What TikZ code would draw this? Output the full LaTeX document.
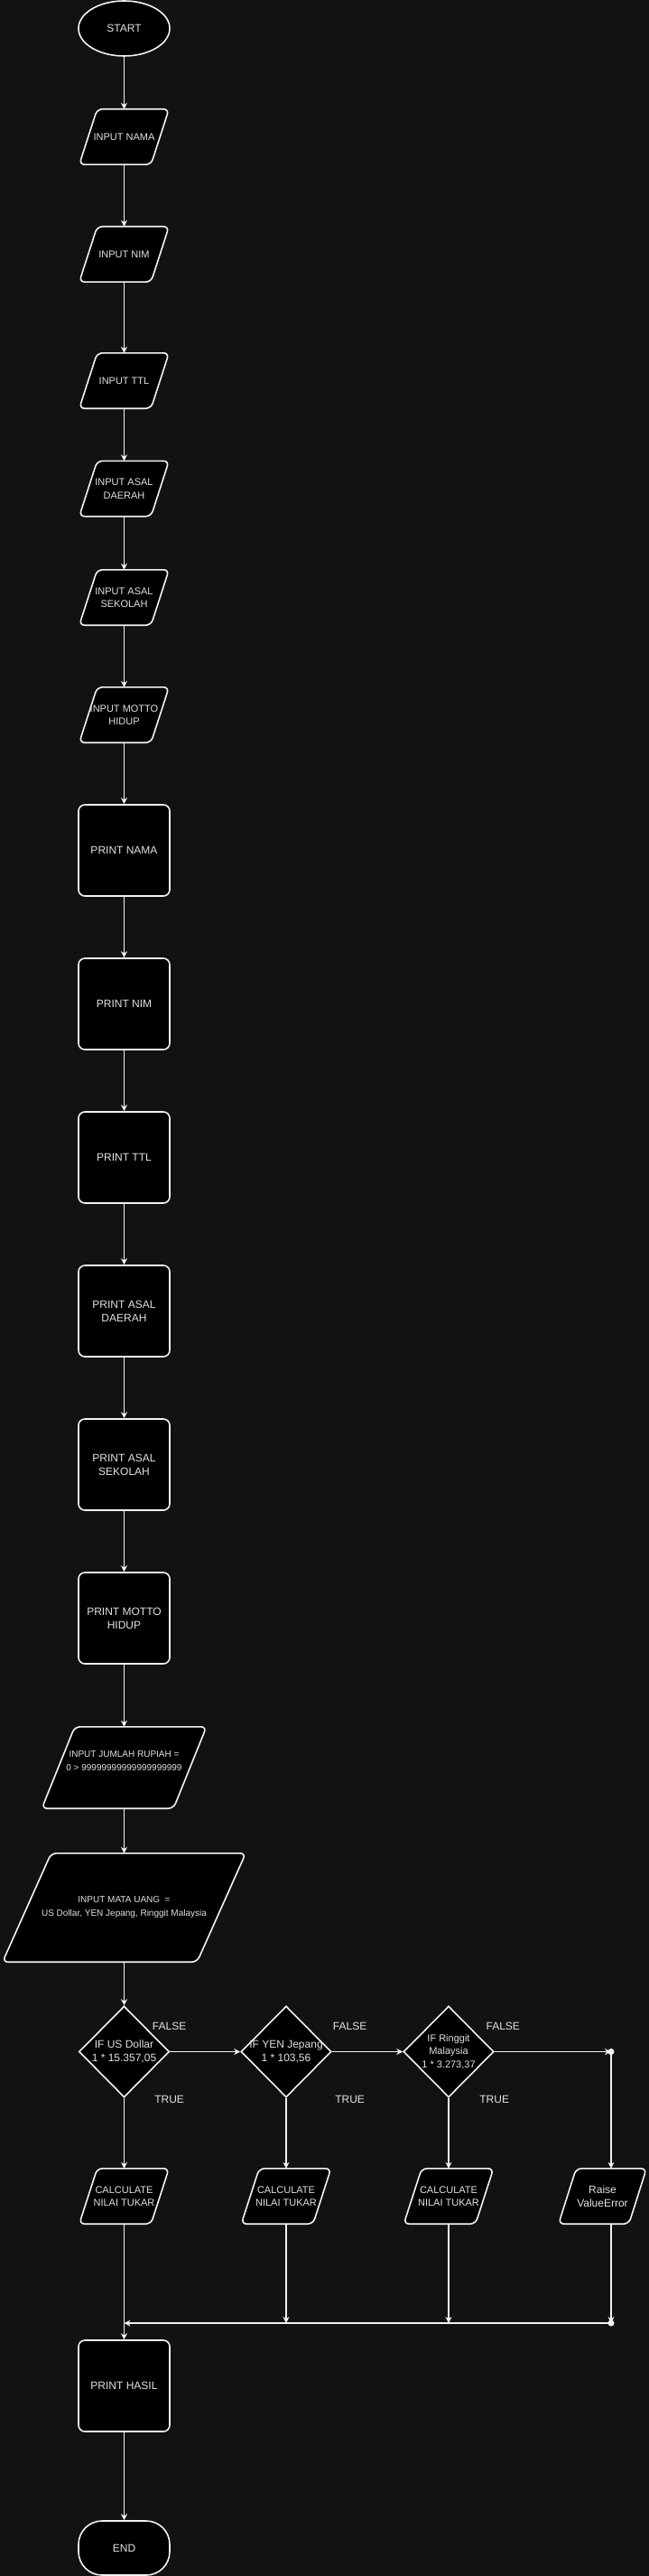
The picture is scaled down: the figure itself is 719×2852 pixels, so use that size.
\documentclass[tikz,border=0pt]{standalone}
\usepackage{fontspec}
\setmainfont{Liberation Sans}
\usetikzlibrary{calc, shapes.geometric, arrows.meta}

\definecolor{bgdark}{HTML}{121212}
\definecolor{linewhite}{HTML}{F2F2F2}
\definecolor{textgrey}{HTML}{E2E2E2}
\pgfdeclarelayer{bg}
\pgfdeclarelayer{shapes}
\pgfsetlayers{bg,shapes,main}

\begin{document}
\begin{tikzpicture}[x=1pt, y=-1pt,
	every node/.style={text=textgrey, align=center, inner sep=0pt},
	terminal/.style={draw=linewhite, fill=black, line width=1.6pt, minimum width=101pt, font=\fontsize{12}{15}\selectfont},
	iotext/.style={rectangle, minimum width=99pt, minimum height=61pt, font=\fontsize{11}{14.5}\selectfont},
	iobox/.style={draw=linewhite, fill=black, line width=1.6pt, rounded corners=6pt},
	printbox/.style={rectangle, draw=linewhite, fill=black, line width=1.6pt, rounded corners=7pt, minimum width=101pt, minimum height=101pt, font=\fontsize{12}{15}\selectfont},
	decision/.style={diamond, draw=linewhite, fill=black, line width=1.6pt, minimum width=100pt, minimum height=101pt},
	dtext/.style={font=\fontsize{12}{15}\selectfont},
	lbl/.style={font=\fontsize{12}{15}\selectfont},
	flow/.style={-{Stealth[length=7pt, width=7pt]}, linewhite, line width=1.1pt}]
			\def\cx{137.5}
			\useasboundingbox (0,0) rectangle (719,2852);
			\begin{pgfonlayer}{bg}
				\fill[bgdark] (0,0) rectangle (719,2852);
			\end{pgfonlayer}
			
			% Input part
			\node[terminal, ellipse, minimum height=61pt] (start) at (\cx,31.5) {START};
			\node[iotext] (in_nama) at (\cx,151.5) {INPUT NAMA};
			\node[iotext] (in_nim) at (\cx,281.5) {INPUT NIM};
			\node[iotext] (in_ttl) at (\cx,421.5) {INPUT TTL};
			\node[iotext] (in_daerah) at (\cx,541) {INPUT ASAL\\DAERAH};
			\node[iotext] (in_sekolah) at (\cx,661.5) {INPUT ASAL\\SEKOLAH};
			\node[iotext] (in_motto) at (\cx,791.5) {INPUT MOTTO\\HIDUP};
			
			% Print part
			\node[printbox] (pr_nama) at (\cx,941.5) {PRINT NAMA};
			\node[printbox] (pr_nim) at (\cx,1111.5) {PRINT NIM};
			\node[printbox] (pr_ttl) at (\cx,1281.5) {PRINT TTL};
			\node[printbox] (pr_daerah) at (\cx,1451.5) {PRINT ASAL\\DAERAH};
			\node[printbox] (pr_sekolah) at (\cx,1621.5) {PRINT ASAL\\SEKOLAH};
			\node[printbox] (pr_motto) at (\cx,1791.5) {PRINT MOTTO\\HIDUP};
			
			% Currency part
			\node[iotext, minimum width=182pt, minimum height=90pt, font=\fontsize{10}{15}\selectfont] (in_rupiah) at (\cx,1957) {INPUT JUMLAH RUPIAH =\\0 > 99999999999999999999\\\mbox{}};
			\node[iotext, minimum width=269pt, minimum height=120pt, font=\fontsize{10}{15}\selectfont] (in_uang) at (\cx,2112) {INPUT MATA UANG \ =\\US Dollar, YEN Jepang, Ringgit Malaysia};
			
			\node[decision] (if_usd) at (\cx,2271.5) {};
			\node[decision] (if_yen) at (317,2271.5) {};
			\node[decision] (if_myr) at (497,2271.5) {};
			\node[dtext] (t_usd) at (if_usd) {IF US Dollar\\1 * 15.357,05};
			\node[dtext] (t_yen) at (if_yen) {IF YEN Jepang\\1 * 103,56};
			\node[dtext, font=\fontsize{11}{14.5}\selectfont] (t_myr) at (if_myr) {IF Ringgit\\Malaysia\\1 * 3.273,37};
			
			\node[iotext] (calc_usd) at (\cx,2431.5) {CALCULATE\\NILAI TUKAR};
			\node[iotext] (calc_yen) at (317,2431.5) {CALCULATE\\NILAI TUKAR};
			\node[iotext] (calc_myr) at (497,2431.5) {CALCULATE\\NILAI TUKAR};
			\node[iotext, minimum width=97pt, font=\fontsize{12}{15}\selectfont] (raise) at (667.5,2431.5) {Raise\\ValueError};
			
			\node[printbox] (pr_hasil) at (\cx,2641.5) {PRINT HASIL};
			\node[terminal, rectangle, rounded corners=26pt, minimum height=60pt] (end) at (\cx,2821) {END};
			
			\coordinate (j1) at (677,2271.5);
			\coordinate (j2) at (677,2572);
			
			% Draw the slanted boxes under the texts
			\begin{pgfonlayer}{shapes}
				\foreach \n in {in_nama,in_nim,in_ttl,in_daerah,in_sekolah,in_motto,in_rupiah,in_uang,calc_usd,calc_yen,calc_myr,raise}
					\draw[iobox] (\n.south west) -- ($(\n.north west)!.2!(\n.north east)$) -- (\n.north east) -- ($(\n.south east)!.2!(\n.south west)$) -- cycle;
			\end{pgfonlayer}
			
			% Arrows
			\foreach \a/\b in {start/in_nama, in_nama/in_nim, in_nim/in_ttl, in_ttl/in_daerah, in_daerah/in_sekolah, in_sekolah/in_motto, in_motto/pr_nama, pr_nama/pr_nim, pr_nim/pr_ttl, pr_ttl/pr_daerah, pr_daerah/pr_sekolah, pr_sekolah/pr_motto, pr_motto/in_rupiah, in_rupiah/in_uang, in_uang/if_usd, if_usd/if_yen, if_yen/if_myr, if_usd/calc_usd, if_yen/calc_yen, if_myr/calc_myr, calc_usd/pr_hasil, pr_hasil/end}
				\draw[flow] (\a) -- (\b);
			\draw[flow] (if_myr) -- (j1);
			\draw[flow] (j1) -- (j1 |- raise.north);
			\draw[flow] (calc_yen) -- (calc_yen |- j2);
			\draw[flow] (calc_myr) -- (calc_myr |- j2);
			\draw[flow] (raise.south -| j2) -- (j2);
			\draw[flow] (j2) -- (calc_usd |- j2);
			\fill[linewhite] (j1) circle (3.5pt);
			\fill[linewhite] (j2) circle (3.5pt);
			
			% Labels
			\node[lbl] (f_usd) at (187.6,2243) {FALSE};
			\node[lbl] (f_yen) at (387.6,2243) {FALSE};
			\node[lbl] (f_myr) at (557.3,2243) {FALSE};
			\node[lbl] (tr_usd) at (187.6,2324) {TRUE};
			\node[lbl] (tr_yen) at (387.6,2324) {TRUE};
			\node[lbl] (tr_myr) at (547.7,2324) {TRUE};
	\end{tikzpicture}
\end{document}
